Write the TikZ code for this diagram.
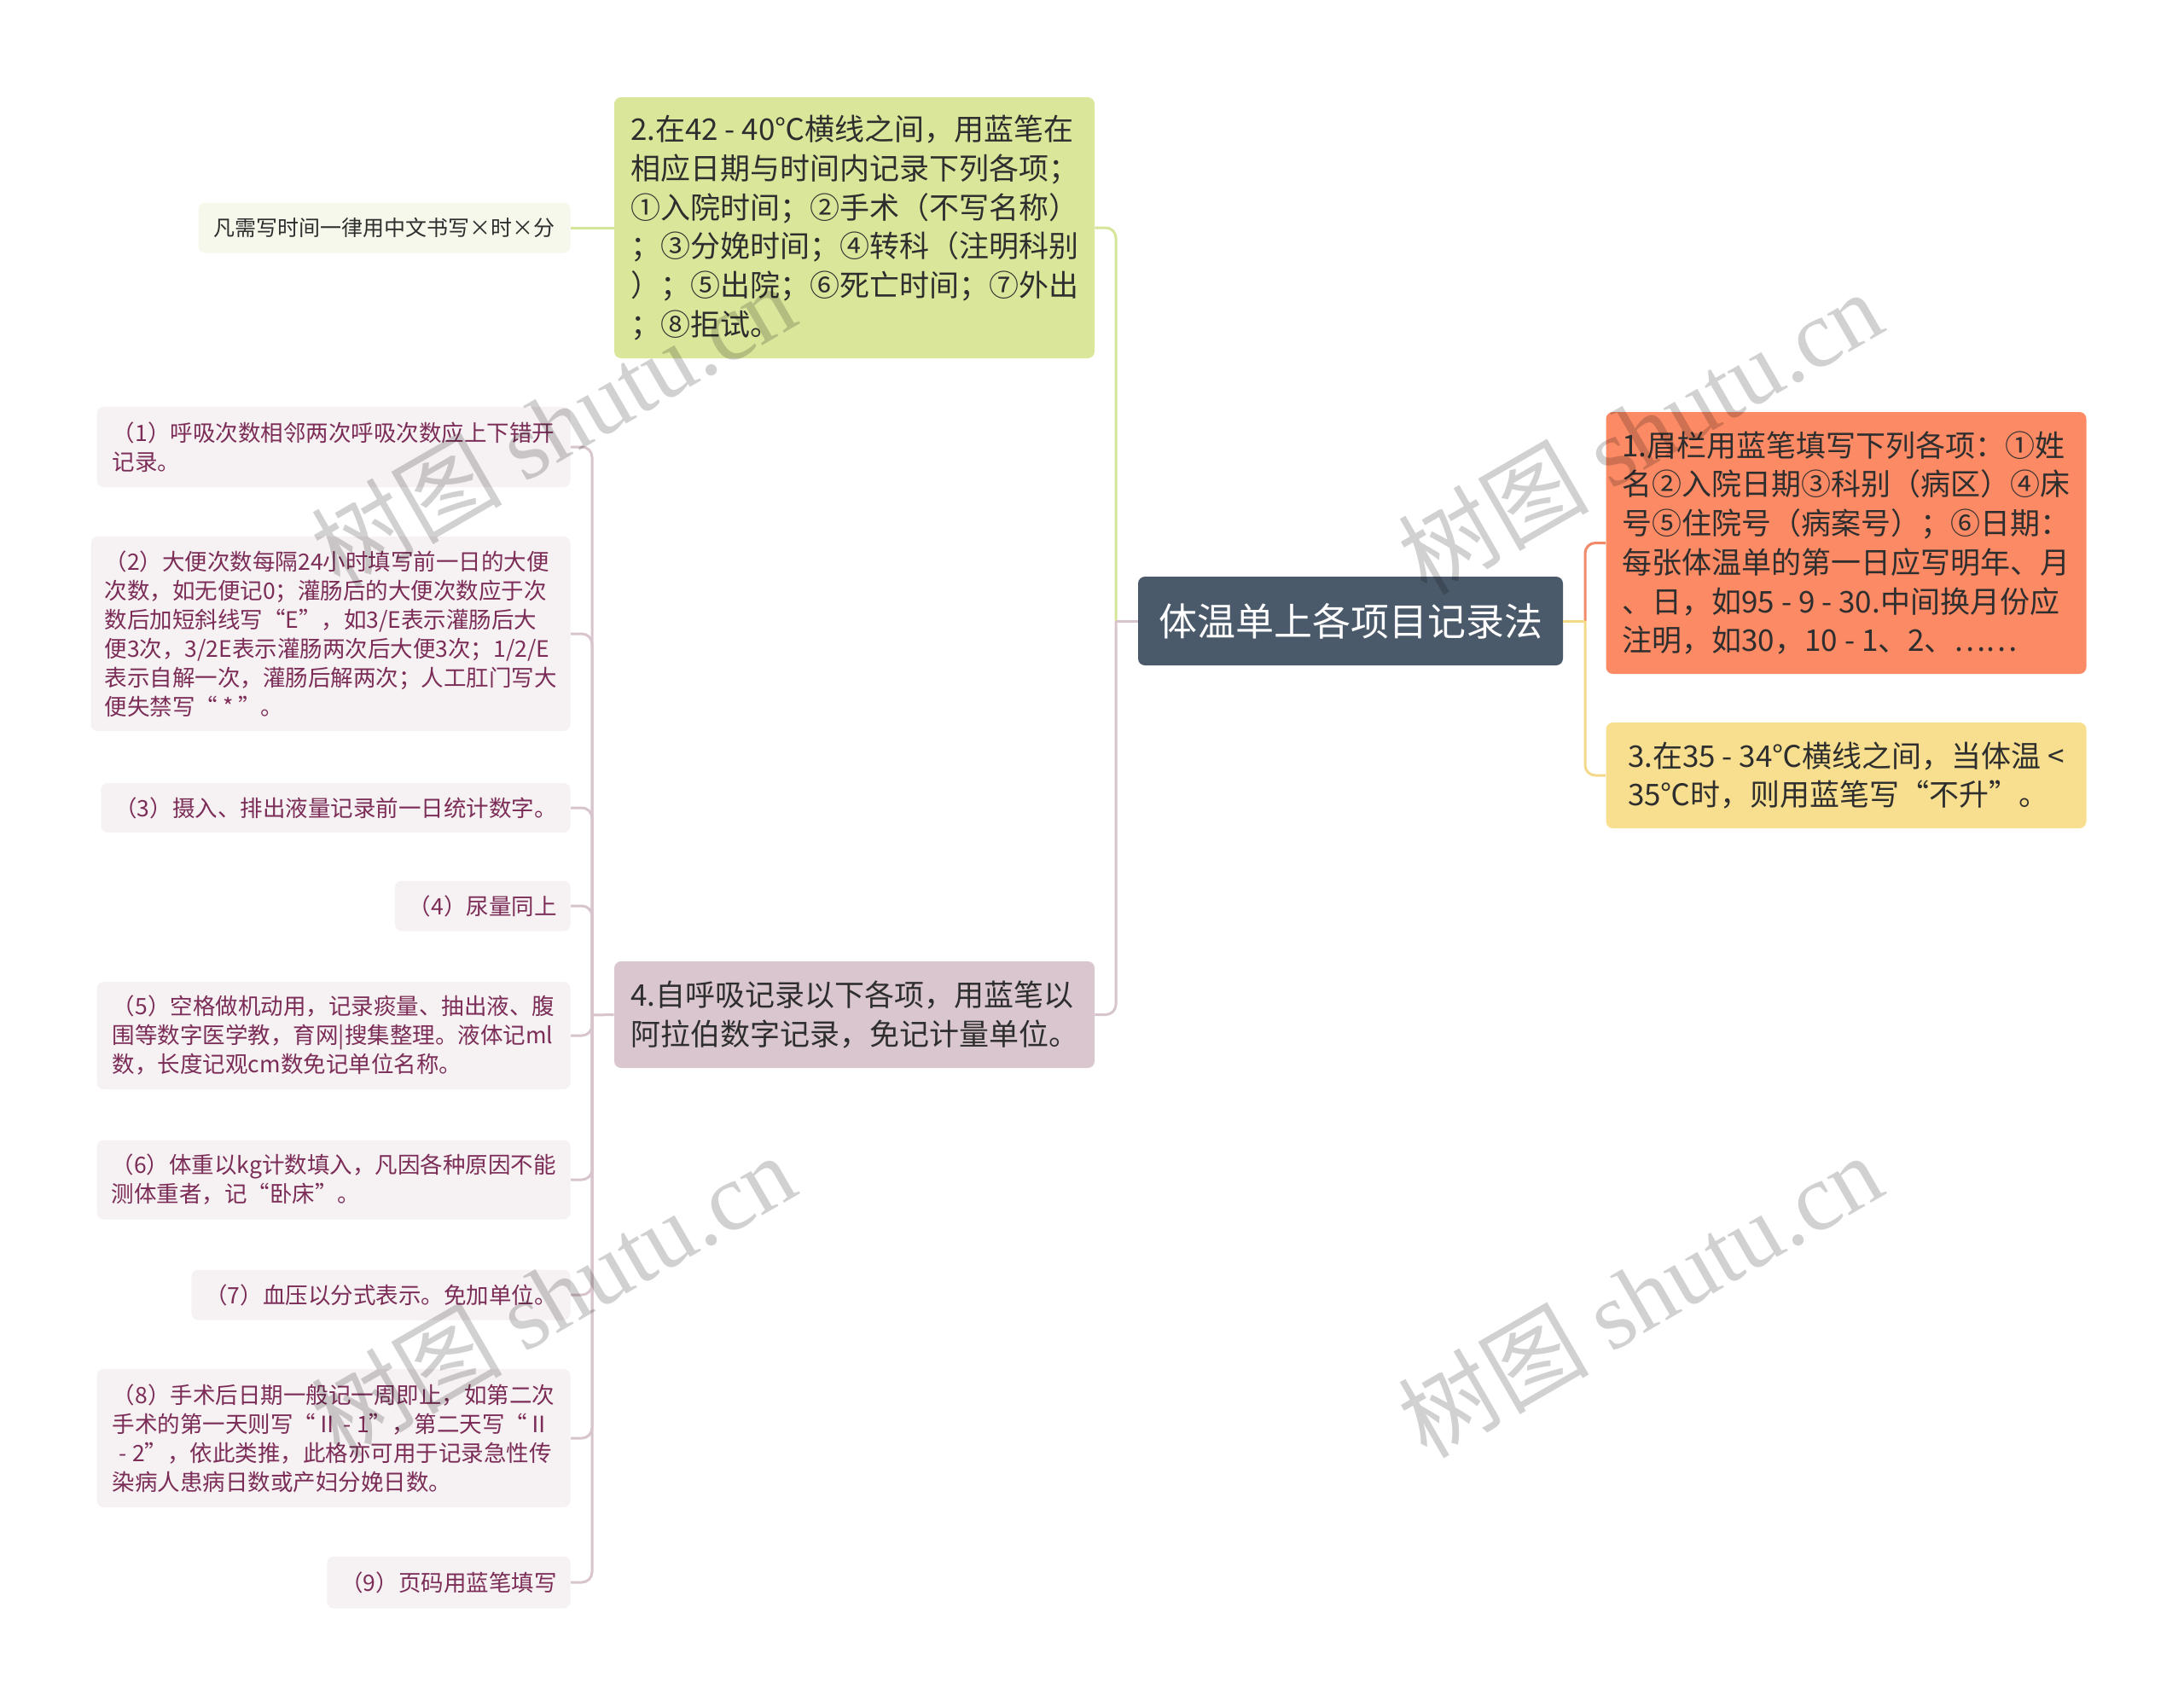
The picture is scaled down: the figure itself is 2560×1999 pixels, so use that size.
\documentclass[tikz,border=0pt]{standalone}
\usepackage{fontspec}
\setmainfont{Noto Sans CJK SC}
\newfontfamily\wmserif{Liberation Serif}
\usepackage{tikz}

\definecolor{rootfill}{HTML}{4B5A6A}
\definecolor{onefill}{HTML}{FB8A65}
\definecolor{twofill}{HTML}{DAE79B}
\definecolor{threefill}{HTML}{F7DF8F}
\definecolor{fourfill}{HTML}{D9C6CF}
\definecolor{notefill}{HTML}{F5F8EA}
\definecolor{leaffill}{HTML}{F6F1F3}
\definecolor{leaftext}{HTML}{7B2D57}
\definecolor{textdark}{HTML}{2E2E2E}
\definecolor{lineone}{HTML}{F08A68}
\definecolor{linetwo}{HTML}{D5E59A}
\definecolor{linethree}{HTML}{F5D98A}
\definecolor{linefour}{HTML}{D8C4CD}

\begin{document}
\begin{tikzpicture}[
    x=0.5pt, y=-0.5pt,
    box/.style={rounded corners=4pt, align=left, inner xsep=9pt, inner ysep=4pt,
      minimum width=281.5pt, text=textdark, font=\fontsize{17.5}{22.85}\selectfont},
    leaf/.style={rounded corners=4pt, align=left, inner xsep=8pt, inner ysep=3pt,
      anchor=east, fill=leaffill, text=leaftext, font=\fontsize{13.25}{17}\selectfont},
    wide/.style={minimum width=277.5pt},
    link/.style={line width=1.5pt, rounded corners=6pt},
    wm/.style={text=black, opacity=0.18, rotate=30, font=\fontsize{56}{60}\selectfont}
  ]
  \useasboundingbox (0,0) rectangle (2560,1999);

  % Root node
  \node[box, fill=rootfill, text=white, align=center, minimum width=249pt, minimum height=52pt,
    font=\fontsize{22.5}{27}\selectfont] (root) at (1583,728) {体温单上各项目记录法};

  % right branches
  \node[box, fill=onefill, minimum height=153.5pt] (b1) at (2164,636.5)
    {1.眉栏用蓝笔填写下列各项：①姓\\名②入院日期③科别（病区）④床\\号⑤住院号（病案号）；⑥日期：\\每张体温单的第一日应写明年、月\\、日，如95 - 9 - 30.中间换月份应\\注明，如30，10 - 1、2、……};
  \node[box, fill=threefill, minimum height=62pt] (b3) at (2164,909)
    {3.在35 - 34℃横线之间，当体温 <\\35℃时，则用蓝笔写“不升”。};

  % left branches
  \node[box, fill=twofill, minimum height=153pt] (b2) at (1001.5,267)
    {2.在42 - 40℃横线之间，用蓝笔在\\相应日期与时间内记录下列各项；\\①入院时间；②手术（不写名称）\\；③分娩时间；④转科（注明科别\\）；⑤出院；⑥死亡时间；⑦外出\\；⑧拒试。};
  \node[box, fill=fourfill, minimum height=62.5pt] (b4) at (1001.5,1189.5)
    {4.自呼吸记录以下各项，用蓝笔以\\阿拉伯数字记录，免记计量单位。};

  \node[box, anchor=east, fill=notefill, minimum width=218pt, minimum height=29.5pt,
    font=\fontsize{12.5}{16}\selectfont] (b2a) at (669,267) {凡需写时间一律用中文书写×时×分};

  % leaves of branch 4
  \node[leaf, wide, minimum height=47pt] (c1) at (669,524)
    {（1）呼吸次数相邻两次呼吸次数应上下错开\\记录。};
  \node[leaf, wide, minimum height=114pt] (c2) at (669,743)
    {（2）大便次数每隔24小时填写前一日的大便\\次数，如无便记0；灌肠后的大便次数应于次\\数后加短斜线写“E”，如3/E表示灌肠后大\\便3次，3/2E表示灌肠两次后大便3次；1/2/E\\表示自解一次，灌肠后解两次；人工肛门写大\\便失禁写“ * ”。};
  \node[leaf, minimum height=29pt] (c3) at (669,947) {（3）摄入、排出液量记录前一日统计数字。};
  \node[leaf, minimum height=29.5pt] (c4) at (669,1062) {（4）尿量同上};
  \node[leaf, wide, minimum height=63pt] (c5) at (669,1214)
    {（5）空格做机动用，记录痰量、抽出液、腹\\围等数字医学教，育网|搜集整理。液体记ml\\数，长度记观cm数免记单位名称。};
  \node[leaf, wide, minimum height=46.5pt] (c6) at (669,1383)
    {（6）体重以kg计数填入，凡因各种原因不能\\测体重者，记“卧床”。};
  \node[leaf, minimum height=29.5pt] (c7) at (669,1518) {（7）血压以分式表示。免加单位。};
  \node[leaf, wide, minimum height=81pt] (c8) at (669,1686)
    {（8）手术后日期一般记一周即止，如第二次\\手术的第一天则写“Ⅱ - 1”，第二天写“Ⅱ\\\hspace{0.3em}- 2”，依此类推，此格亦可用于记录急性传\\染病人患病日数或产妇分娩日数。};
  \node[leaf, minimum height=30.5pt] (c9) at (669,1855) {（9）页码用蓝笔填写};

  % connectors
  \coordinate (jl) at (1308,728);
  \coordinate (jr) at (1858,728);
  \coordinate (jc) at (694,1190);
  \draw[link, linetwo] (jl) |- (b2.east);
  \draw[link, linefour] (jl) |- (b4.east);
  \draw[link, linefour] (root.west) -- (jl);
  \draw[link, lineone] (jr) |- (b1.west);
  \draw[link, linethree] (jr) |- (b3.west);
  \draw[link, linethree] (root.east) -- (jr);
  \draw[link, linetwo] (b2.west) -- (b2a.east);
  \draw[link, linefour] (b4.west) -- (jc);
  \foreach \i in {1,...,9}
    \draw[link, linefour] (jc) |- (c\i.east);

  % watermark
  \foreach \wx/\wy in {648/498, 1922/506, 648/1518, 1922/1518}
    \node[wm] (wm-\wx-\wy) at (\wx,\wy) {树图 {\wmserif shutu.cn}};
\end{tikzpicture}
\end{document}
